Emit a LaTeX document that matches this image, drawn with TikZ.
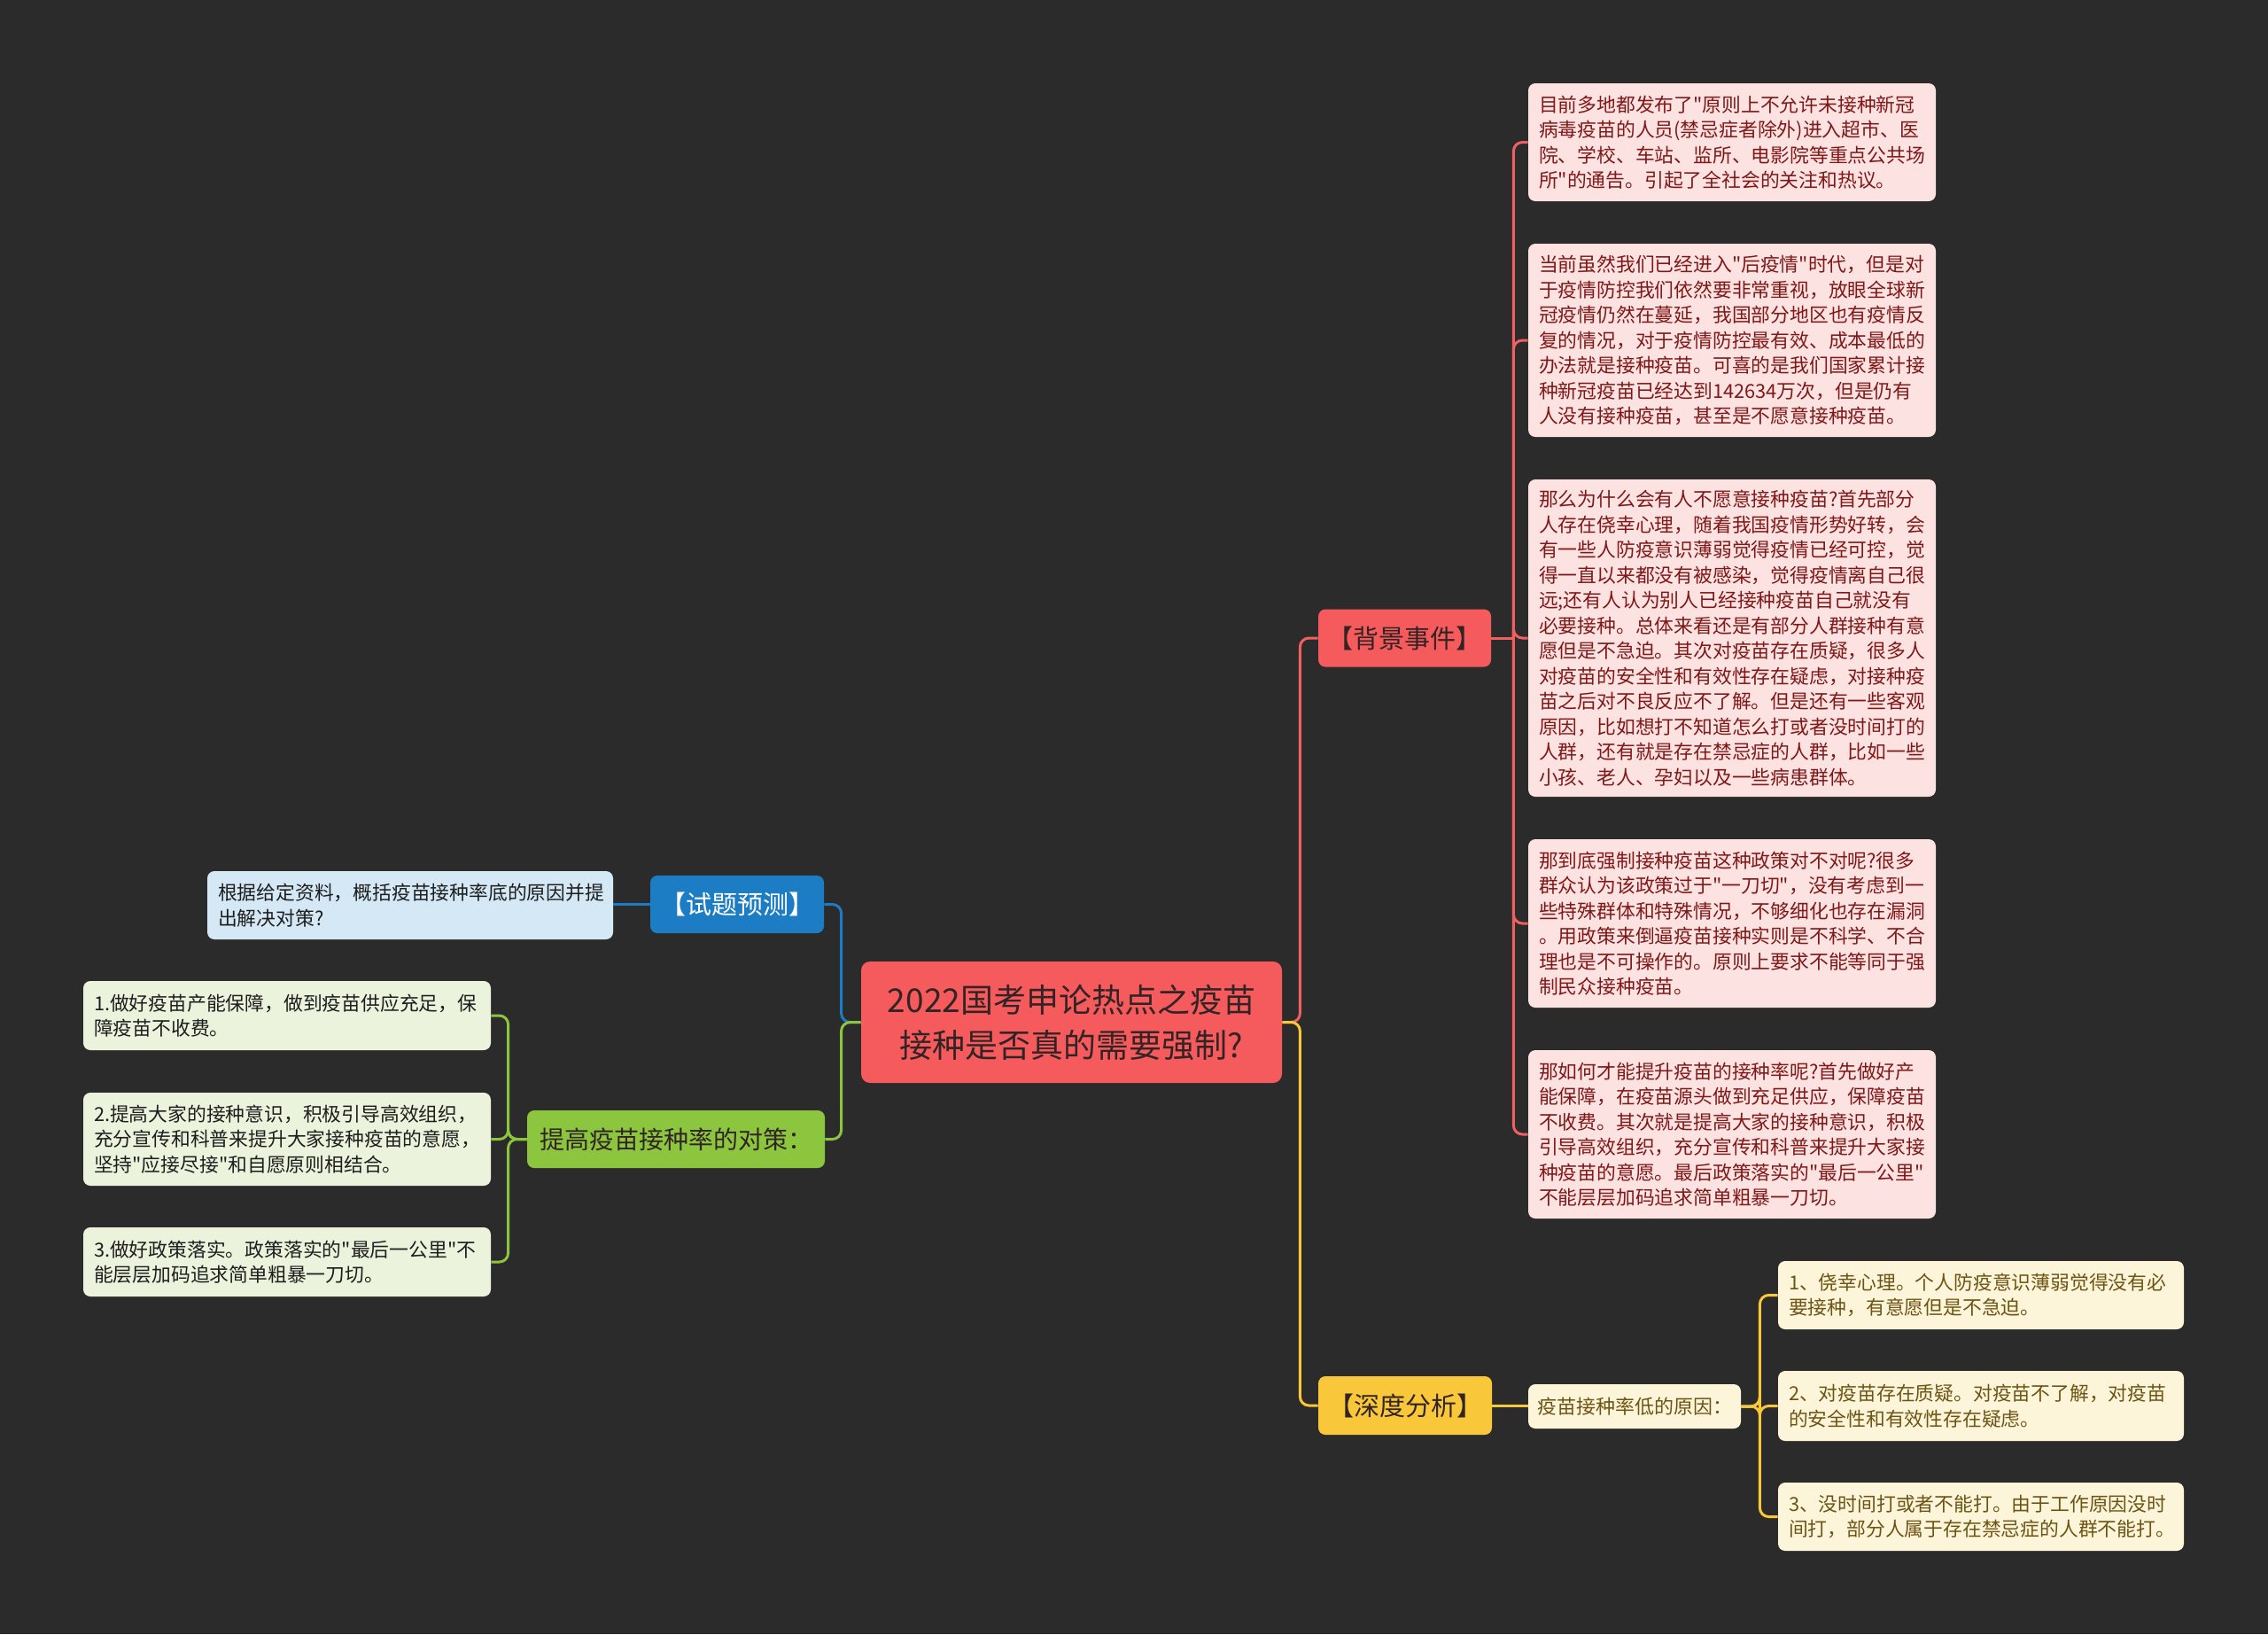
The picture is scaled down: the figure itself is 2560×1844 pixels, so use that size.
\documentclass[tikz,border=0pt]{standalone}
\usepackage{fontspec}
\newfontfamily\cjkfont{Noto Sans CJK SC}
\setmainfont{Noto Sans CJK SC}[Ligatures=TeXOff]
\definecolor{bgc}{RGB}{43,43,43}
\definecolor{redmain}{RGB}{245,90,92}
\definecolor{redline}{RGB}{240,96,96}
\definecolor{pinkfill}{RGB}{253,226,226}
\definecolor{pinktext}{RGB}{128,24,24}
\definecolor{bluemain}{RGB}{28,125,196}
\definecolor{bluefill}{RGB}{212,232,245}
\definecolor{greenmain}{RGB}{140,198,63}
\definecolor{greenfill}{RGB}{235,243,220}
\definecolor{yellowmain}{RGB}{249,200,58}
\definecolor{yellowfill}{RGB}{253,245,217}
\definecolor{yellowtext}{RGB}{110,84,20}
\definecolor{darktext}{RGB}{50,36,36}
\definecolor{leaftext}{RGB}{30,30,30}
\begin{document}
\begin{tikzpicture}[x=0.5pt,y=-0.5pt,
  mainbox/.style={rounded corners=4pt, inner sep=0pt, align=center},
  lvl/.style={mainbox, minimum height=32.5pt, font=\cjkfont\fontsize{14.5}{17}\selectfont},
  leaf/.style={rounded corners=4pt, inner xsep=6pt, inner ysep=3pt, align=left, text width=218pt, font=\cjkfont\fontsize{10.9}{14.25}\selectfont},
  pinkleaf/.style={leaf, fill=pinkfill, text=pinktext},
  blueleaf/.style={leaf, fill=bluefill, text=leaftext},
  greenleaf/.style={leaf, fill=greenfill, text=leaftext},
  yellowleaf/.style={leaf, fill=yellowfill, text=yellowtext, text width=217pt},
  conn/.style={line width=1.5pt, rounded corners=5pt},
]
\fill[bgc] (0,0) rectangle (2560,1844);

% root
\node[mainbox, fill=redmain, text=darktext, minimum width=237.5pt, minimum height=68.5pt, rounded corners=5pt, font=\cjkfont\fontsize{18.5}{25.5}\selectfont] (root) at (1209.5,1153.5) {2022国考申论热点之疫苗\\接种是否真的需要强制?};

% level 1
\node[lvl, fill=redmain, text=darktext, minimum width=97.5pt] (bg) at (1585.5,720) {【背景事件】};
\node[lvl, fill=yellowmain, text=darktext, minimum width=98pt, minimum height=33pt] (sd) at (1586,1586) {【深度分析】};
\node[lvl, fill=bluemain, text=white, minimum width=98pt] (test) at (832,1020.5) {【试题预测】};
\node[lvl, fill=greenmain, text=darktext, minimum width=168pt, font=\cjkfont\fontsize{14}{16}\selectfont] (dui) at (763,1285.5) {提高疫苗接种率的对策：};

% level 2
\node[mainbox, fill=yellowfill, text=yellowtext, minimum width=120pt, minimum height=25pt, font=\cjkfont\fontsize{11}{13}\selectfont] (yy) at (1845,1587) {疫苗接种率低的原因：};

% pink leaves
\node[pinkleaf, minimum height=66.5pt] (p1) at (1955,160.5) {目前多地都发布了"原则上不允许未接种新冠\\病毒疫苗的人员(禁忌症者除外)进入超市、医\\院、学校、车站、监所、电影院等重点公共场\\所"的通告。引起了全社会的关注和热议。};
\node[pinkleaf, minimum height=109pt] (p2) at (1955,384) {当前虽然我们已经进入"后疫情"时代，但是对\\于疫情防控我们依然要非常重视，放眼全球新\\冠疫情仍然在蔓延，我国部分地区也有疫情反\\复的情况，对于疫情防控最有效、成本最低的\\办法就是接种疫苗。可喜的是我们国家累计接\\种新冠疫苗已经达到142634万次，但是仍有\\人没有接种疫苗，甚至是不愿意接种疫苗。};
\node[pinkleaf, minimum height=179pt] (p3) at (1955,720) {那么为什么会有人不愿意接种疫苗?首先部分\\人存在侥幸心理，随着我国疫情形势好转，会\\有一些人防疫意识薄弱觉得疫情已经可控，觉\\得一直以来都没有被感染，觉得疫情离自己很\\远;还有人认为别人已经接种疫苗自己就没有\\必要接种。总体来看还是有部分人群接种有意\\愿但是不急迫。其次对疫苗存在质疑，很多人\\对疫苗的安全性和有效性存在疑虑，对接种疫\\苗之后对不良反应不了解。但是还有一些客观\\原因，比如想打不知道怎么打或者没时间打的\\人群，还有就是存在禁忌症的人群，比如一些\\小孩、老人、孕妇以及一些病患群体。};
\node[pinkleaf, minimum height=95pt] (p4) at (1955,1042) {那到底强制接种疫苗这种政策对不对呢?很多\\群众认为该政策过于"一刀切"，没有考虑到一\\些特殊群体和特殊情况，不够细化也存在漏洞\\。用政策来倒逼疫苗接种实则是不科学、不合\\理也是不可操作的。原则上要求不能等同于强\\制民众接种疫苗。};
\node[pinkleaf, minimum height=95pt] (p5) at (1955,1280) {那如何才能提升疫苗的接种率呢?首先做好产\\能保障，在疫苗源头做到充足供应，保障疫苗\\不收费。其次就是提高大家的接种意识，积极\\引导高效组织，充分宣传和科普来提升大家接\\种疫苗的意愿。最后政策落实的"最后一公里"\\不能层层加码追求简单粗暴一刀切。};

% blue leaf
\node[blueleaf, text width=217pt, minimum height=38.5pt] (gen) at (463,1021.5) {根据给定资料，概括疫苗接种率底的原因并提\\出解决对策?};

% green leaves
\node[greenleaf, minimum height=39pt] (g1) at (324,1146) {1.做好疫苗产能保障，做到疫苗供应充足，保\\障疫苗不收费。};
\node[greenleaf, minimum height=52.5pt] (g2) at (324,1285.5) {2.提高大家的接种意识，积极引导高效组织，\\充分宣传和科普来提升大家接种疫苗的意愿，\\坚持"应接尽接"和自愿原则相结合。};
\node[greenleaf, minimum height=39pt] (g3) at (324,1424) {3.做好政策落实。政策落实的"最后一公里"不\\能层层加码追求简单粗暴一刀切。};

% yellow leaves
\node[yellowleaf, minimum height=38.5pt] (y1) at (2236,1461.5) {1、侥幸心理。个人防疫意识薄弱觉得没有必\\要接种，有意愿但是不急迫。};
\node[yellowleaf, minimum height=39.5pt] (y2) at (2236,1586.5) {2、对疫苗存在质疑。对疫苗不了解，对疫苗\\的安全性和有效性存在疑虑。};
\node[yellowleaf, minimum height=38.5pt] (y3) at (2236,1711.5) {3、没时间打或者不能打。由于工作原因没时\\间打，部分人属于存在禁忌症的人群不能打。};

% connectors
\draw[conn, redline] (root.east) -- ++(20,0) |- (bg.west);
\draw[conn, yellowmain] (root.east) -- ++(20,0) |- (sd.west);
\draw[conn, bluemain] (root.west) -- ++(-22,0) |- (test.east);
\draw[conn, greenmain] (root.west) -- ++(-22,0) |- (dui.east);

\coordinate (rt) at ([xshift=12.5pt]bg.east);
\draw[conn, redline] (bg.east) -- (rt);
\foreach \p in {p1,p2,p3,p4,p5} \draw[conn, redline] (rt) |- (\p.west);

\draw[conn, bluemain] (test.west) -- (test.west -| gen.east);

\foreach \g in {g1,g2,g3} \draw[conn, greenmain] (dui.west) -- ++(-21,0) |- (\g.east);

\draw[conn, yellowmain] (sd.east) -- (sd.east -| yy.west);
\foreach \y in {y1,y2,y3} \draw[conn, yellowmain] (yy.east) -- ++(21,0) |- (\y.west);
\end{tikzpicture}
\end{document}
